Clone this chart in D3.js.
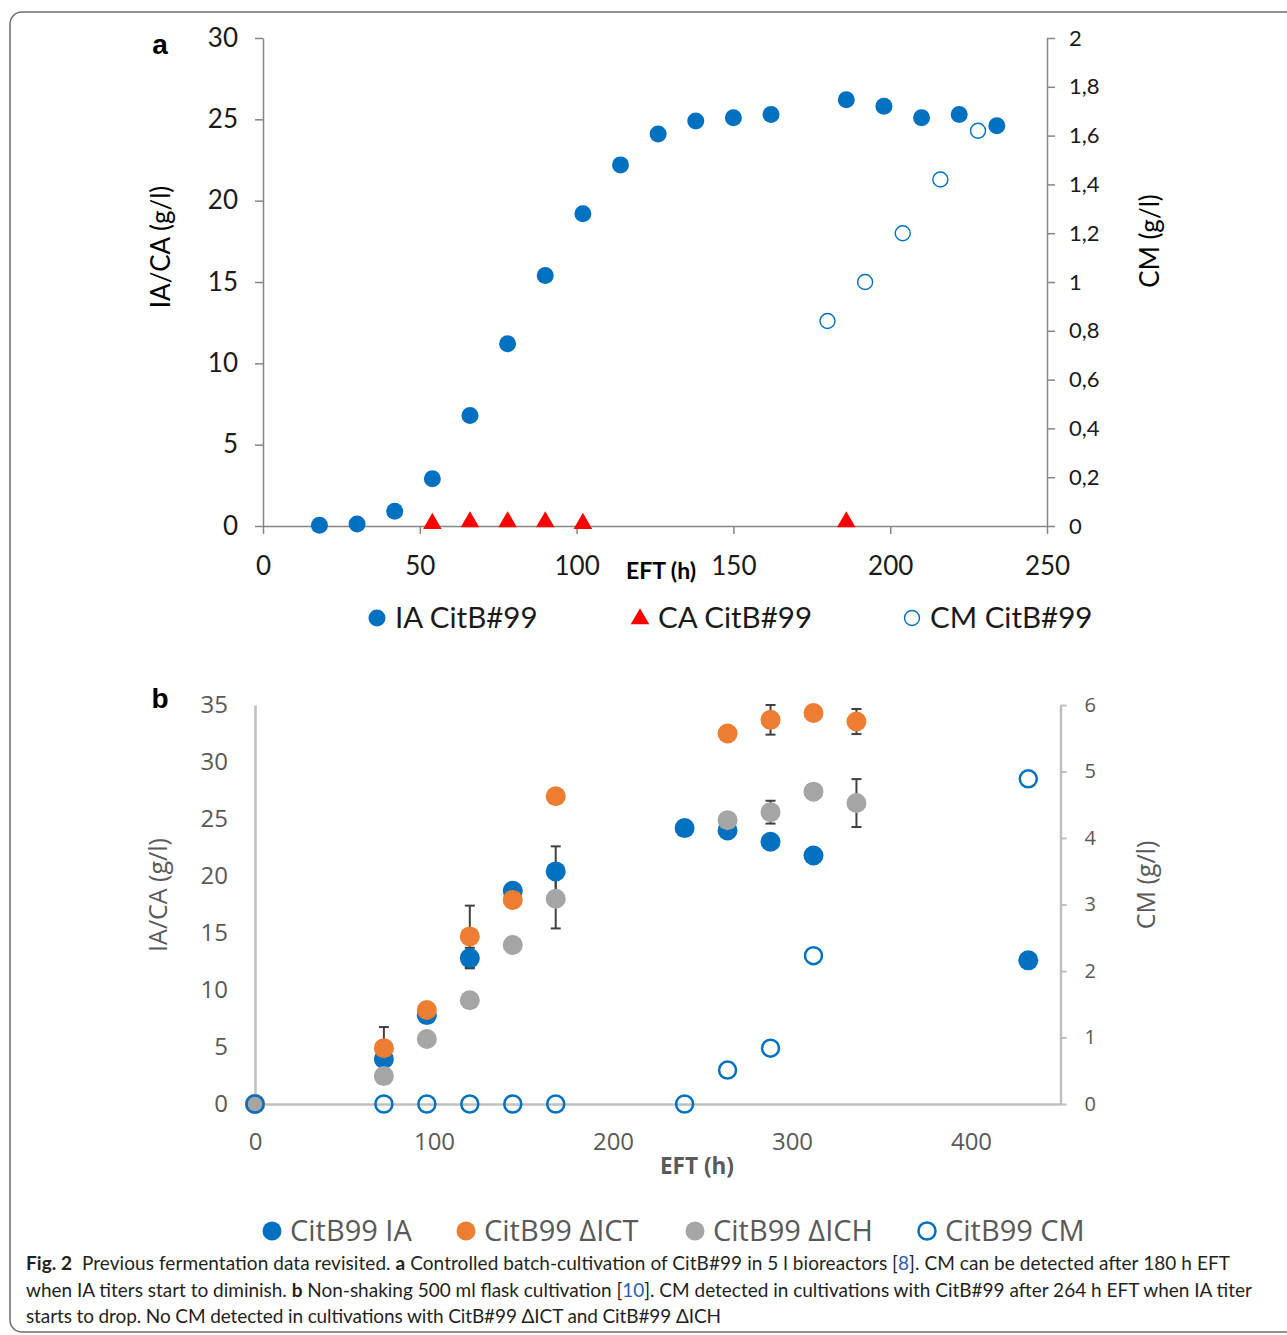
<!DOCTYPE html>
<html>
<head>
<meta charset="utf-8">
<script src="https://cdn.jsdelivr.net/npm/d3@7"></script>
<style>
  body { margin: 0; background: #fff; }
</style>
</head>
<body>
<div id="chart"></div>
<script>
// ---- panel a: controlled batch cultivation, 5 l bioreactor
const aIAHours = [18, 30, 42, 54, 66, 78, 90, 102, 114, 126, 138, 150, 162, 186, 198, 210, 222, 234];
const aIA      = [0.05, 0.12, 0.9, 2.9, 6.8, 11.2, 15.4, 19.2, 22.2, 24.1, 24.9, 25.1, 25.3, 26.2, 25.8, 25.1, 25.3, 24.6];
const aCAHours = [54, 66, 78, 90, 102, 186];
const aCA      = [0.15, 0.25, 0.25, 0.25, 0.15, 0.25];
const aCMHours = [180, 192, 204, 216, 228];
const aCM      = [0.84, 1.0, 1.2, 1.42, 1.62];
const aXTicks     = [0, 50, 100, 150, 200, 250];
const aLeftTicks  = [0, 5, 10, 15, 20, 25, 30];
const aRightTicks = [0, 0.2, 0.4, 0.6, 0.8, 1, 1.2, 1.4, 1.6, 1.8, 2];
const aLegend = ["IA CitB#99", "CA CitB#99", "CM CitB#99"];

// ---- panel b: non-shaking 500 ml flask cultivation
const bIAHours  = [0, 72, 96, 120, 144, 168, 240, 264, 288, 312, 432];
const bIA       = [0, 3.95, 7.8, 12.8, 18.7, 20.4, 24.2, 24.0, 23.0, 21.8, 12.6];
const bIAErr    = [0, 0, 0, 0.9, 0, 2.2, 0, 0, 0, 0, 0];
const bMutHours = [0, 72, 96, 120, 144, 168, 264, 288, 312, 336];
const bICT      = [0, 4.9, 8.25, 14.7, 17.9, 27.0, 32.5, 33.7, 34.3, 33.55];
const bICTErr   = [0, 1.85, 0, 2.7, 0, 0, 0, 1.3, 0, 1.1];
const bICH      = [0, 2.45, 5.7, 9.1, 13.95, 18.0, 24.9, 25.6, 27.4, 26.4];
const bICHErr   = [0, 0, 0, 0, 0, 2.6, 0, 1.0, 0, 2.1];
const bCMHours  = [0, 72, 96, 120, 144, 168, 240, 264, 288, 312, 432];
const bCM       = [0, 0, 0, 0, 0, 0, 0, 0.51, 0.84, 2.23, 4.89];
const bXTicks     = [0, 100, 200, 300, 400];
const bLeftTicks  = [0, 5, 10, 15, 20, 25, 30, 35];
const bRightTicks = [0, 1, 2, 3, 4, 5, 6];
const bLegend = ["CitB99 IA", "CitB99 \u0394ICT", "CitB99 \u0394ICH", "CitB99 CM"];

// caption, one array per line: [text, kind]
const captionLines = [
  [["Fig. 2", "b"], ["  Previous fermentation data revisited. ", ""], ["a", "b"], [" Controlled batch-cultivation of CitB#99 in 5 l bioreactors [", ""], ["8", "link"], ["]. CM can be detected after 180 h EFT", ""]],
  [["when IA titers start to diminish. ", ""], ["b", "b"], [" Non-shaking 500 ml flask cultivation [", ""], ["10", "link"], ["]. CM detected in cultivations with CitB#99 after 264 h EFT when IA titer", ""]],
  [["starts to drop. No CM detected in cultivations with CitB#99 \u0394ICT and CitB#99 \u0394ICH", ""]]
];

const blue = "#0070c0", orange = "#ed7d31", grey = "#a5a5a5", red = "#ff0000";
const fontA = "Lato, 'Liberation Sans', sans-serif";
const fontB = "'Open Sans', 'Noto Sans', sans-serif";

const svg = d3.select("#chart")
  .append("svg")
    .attr("width", 1287)
    .attr("height", 1335);

// figure frame
svg.append("rect")
  .attr("x", 10).attr("y", 12)
  .attr("width", 1310).attr("height", 1320)
  .attr("rx", 12)
  .attr("fill", "none")
  .attr("stroke", "#6e6e6e")
  .attr("stroke-width", 1.5);

// ================= panel a =================
const xA = d3.scaleLinear().domain([0, 250]).range([263, 1047]);
const yA = d3.scaleLinear().domain([0, 30]).range([526, 38]);
const yA2 = d3.scaleLinear().domain([0, 2]).range([526, 38]);

function styleAxisA(g, size) {
  g.select(".domain").attr("stroke", "#868686").attr("stroke-width", 1.5);
  g.selectAll(".tick line").attr("stroke", "#868686").attr("stroke-width", 1.5);
  g.selectAll("text")
    .attr("fill", "#1a1a1a")
    .style("font-family", fontA)
    .style("font-size", size + "px");
}

svg.append("g")
  .attr("transform", `translate(0, ${yA(0)})`)
  .call(d3.axisBottom(xA).tickValues(aXTicks).tickSize(8).tickSizeOuter(0).tickPadding(23))
  .call(g => styleAxisA(g, 26));

svg.append("g")
  .attr("transform", `translate(${xA(0)}, 0)`)
  .call(d3.axisLeft(yA).tickValues(aLeftTicks).tickSize(8).tickSizeOuter(0).tickPadding(17))
  .call(g => styleAxisA(g, 26));

svg.append("g")
  .attr("transform", `translate(${xA(250)}, 0)`)
  .call(d3.axisRight(yA2).tickValues(aRightTicks).tickSize(8).tickSizeOuter(0).tickPadding(14)
    .tickFormat(d => String(d).replace(".", ",")))
  .call(g => styleAxisA(g, 22));

svg.append("text")
  .attr("x", 160).attr("y", 54)
  .attr("text-anchor", "middle")
  .style("font-family", "'Liberation Sans', Arial, sans-serif")
  .style("font-weight", "bold")
  .style("font-size", "28px")
  .text("a");

svg.append("text")
  .attr("transform", "translate(160, 247) rotate(-90)")
  .attr("text-anchor", "middle")
  .attr("dominant-baseline", "central")
  .style("font-family", fontA)
  .style("font-size", "26px")
  .text("IA/CA (g/l)");

svg.append("text")
  .attr("transform", "translate(1149, 241) rotate(-90)")
  .attr("text-anchor", "middle")
  .attr("dominant-baseline", "central")
  .style("font-family", fontA)
  .style("font-size", "26px")
  .text("CM (g/l)");

svg.append("text")
  .attr("x", 661).attr("y", 579)
  .attr("text-anchor", "middle")
  .style("font-family", fontA)
  .style("font-weight", "bold")
  .style("font-size", "23px")
  .text("EFT (h)");

// IA
svg.selectAll("circle.aIA")
  .data(aIAHours)
  .join("circle")
    .attr("class", "aIA")
    .attr("cx", d => xA(d))
    .attr("cy", (d, i) => yA(aIA[i]))
    .attr("r", 8.5)
    .attr("fill", blue);

// CA
svg.selectAll("path.aCA")
  .data(aCAHours)
  .join("path")
    .attr("class", "aCA")
    .attr("transform", (d, i) => `translate(${xA(d)}, ${yA(aCA[i])})`)
    .attr("d", d3.symbol(d3.symbolTriangle, 150))
    .attr("fill", red);

// CM, right axis
svg.selectAll("circle.aCM")
  .data(aCMHours)
  .join("circle")
    .attr("class", "aCM")
    .attr("cx", d => xA(d))
    .attr("cy", (d, i) => yA2(aCM[i]))
    .attr("r", 7.5)
    .attr("fill", "none")
    .attr("stroke", blue)
    .attr("stroke-width", 1.4);

// legend a
const legA = svg.append("g");
const legAx = [377, 640, 912];
legA.append("circle").attr("cx", legAx[0]).attr("cy", 618).attr("r", 8.5).attr("fill", blue);
legA.append("path").attr("transform", `translate(${legAx[1]}, 619)`)
  .attr("d", d3.symbol(d3.symbolTriangle, 150)).attr("fill", red);
legA.append("circle").attr("cx", legAx[2]).attr("cy", 618).attr("r", 7.5)
  .attr("fill", "none").attr("stroke", blue).attr("stroke-width", 1.4);
legA.selectAll("text")
  .data(aLegend)
  .join("text")
    .attr("x", (d, i) => legAx[i] + 18)
    .attr("y", 628)
    .attr("fill", "#1a1a1a")
    .style("font-family", fontA)
    .style("font-size", "29.5px")
    .text(d => d);

// ================= panel b =================
const xB = d3.scaleLinear().domain([0, 450]).range([255, 1060.5]);
const yB = d3.scaleLinear().domain([0, 35]).range([1104, 705]);
const yB2 = d3.scaleLinear().domain([0, 6]).range([1104, 705]);

function styleAxisB(g, size) {
  g.select(".domain").attr("stroke", "#bfbfbf").attr("stroke-width", 2.5);
  g.selectAll(".tick line").attr("stroke", "#bfbfbf").attr("stroke-width", 2);
  g.selectAll("text")
    .attr("fill", "#595959")
    .style("font-family", fontB)
    .style("font-size", size + "px");
}

svg.append("g")
  .attr("transform", `translate(0, ${yB(0)})`)
  .call(d3.axisBottom(xB).tickValues(bXTicks).tickSize(0).tickSizeOuter(0).tickPadding(29))
  .call(g => styleAxisB(g, 24));

svg.append("g")
  .attr("transform", `translate(${xB(0)}, 0)`)
  .call(d3.axisLeft(yB).tickValues(bLeftTicks).tickSize(0).tickSizeOuter(0).tickPadding(27))
  .call(g => styleAxisB(g, 24));

svg.append("g")
  .attr("transform", `translate(${xB(450)}, 0)`)
  .call(d3.axisRight(yB2).tickValues(bRightTicks).tickSize(6).tickSizeOuter(0).tickPadding(18)
    .tickFormat(d3.format("d")))
  .call(g => styleAxisB(g, 20));

svg.append("text")
  .attr("x", 160).attr("y", 708)
  .attr("text-anchor", "middle")
  .style("font-family", "'Liberation Sans', Arial, sans-serif")
  .style("font-weight", "bold")
  .style("font-size", "28px")
  .text("b");

svg.append("text")
  .attr("transform", "translate(157, 895) rotate(-90)")
  .attr("text-anchor", "middle")
  .attr("dominant-baseline", "central")
  .attr("fill", "#595959")
  .style("font-family", fontB)
  .style("font-size", "25px")
  .text("IA/CA (g/l)");

svg.append("text")
  .attr("transform", "translate(1145, 885) rotate(-90)")
  .attr("text-anchor", "middle")
  .attr("dominant-baseline", "central")
  .attr("fill", "#595959")
  .style("font-family", fontB)
  .style("font-size", "25px")
  .text("CM (g/l)");

svg.append("text")
  .attr("x", 697).attr("y", 1174)
  .attr("text-anchor", "middle")
  .attr("fill", "#595959")
  .attr("textLength", 74)
  .attr("lengthAdjust", "spacingAndGlyphs")
  .style("font-family", fontB)
  .style("font-weight", "bold")
  .style("font-size", "23px")
  .text("EFT (h)");

// error bars first, markers drawn over them
function errorBars(hours, vals, errs) {
  const pts = hours.map((h, i) => ({ h, v: vals[i], e: errs[i] })).filter(p => p.e > 0);
  const g = svg.append("g").attr("stroke", "#404040").attr("stroke-width", 2);
  g.selectAll("line.v").data(pts).join("line")
    .attr("x1", p => xB(p.h)).attr("x2", p => xB(p.h))
    .attr("y1", p => yB(p.v + p.e)).attr("y2", p => yB(p.v - p.e));
  g.selectAll("line.t").data(pts).join("line")
    .attr("x1", p => xB(p.h) - 5).attr("x2", p => xB(p.h) + 5)
    .attr("y1", p => yB(p.v + p.e)).attr("y2", p => yB(p.v + p.e));
  g.selectAll("line.b").data(pts).join("line")
    .attr("x1", p => xB(p.h) - 5).attr("x2", p => xB(p.h) + 5)
    .attr("y1", p => yB(p.v - p.e)).attr("y2", p => yB(p.v - p.e));
}
errorBars(bIAHours, bIA, bIAErr);
errorBars(bMutHours, bICT, bICTErr);
errorBars(bMutHours, bICH, bICHErr);

function dots(hours, vals, color) {
  svg.append("g").selectAll("circle")
    .data(hours)
    .join("circle")
      .attr("cx", d => xB(d))
      .attr("cy", (d, i) => yB(vals[i]))
      .attr("r", 10)
      .attr("fill", color);
}
dots(bIAHours, bIA, blue);
dots(bMutHours, bICT, orange);
dots(bMutHours, bICH, grey);

svg.append("g").selectAll("circle")
  .data(bCMHours)
  .join("circle")
    .attr("cx", d => xB(d))
    .attr("cy", (d, i) => yB2(bCM[i]))
    .attr("r", 8.5)
    .attr("fill", "none")
    .attr("stroke", blue)
    .attr("stroke-width", 2.5);

// legend b
const legBx = [272, 466, 695, 927];
const legBcol = [blue, orange, grey, null];
const legB = svg.append("g");
legB.selectAll("circle")
  .data(legBx)
  .join("circle")
    .attr("cx", d => d)
    .attr("cy", 1231)
    .attr("r", (d, i) => legBcol[i] ? 9.5 : 8.5)
    .attr("fill", (d, i) => legBcol[i] || "none")
    .attr("stroke", (d, i) => legBcol[i] ? "none" : blue)
    .attr("stroke-width", 2.5);
legB.selectAll("text")
  .data(bLegend)
  .join("text")
    .attr("x", (d, i) => legBx[i] + 18)
    .attr("y", 1241)
    .attr("fill", "#595959")
    .style("font-family", fontB)
    .style("font-size", "29px")
    .text(d => d);

// ================= caption =================
const capWidths = [1204, 1226, 695];
captionLines.forEach((line, li) => {
  const t = svg.append("text")
    .attr("x", 26)
    .attr("y", 1270 + li * 26.5)
    .attr("fill", "#231f20")
    .attr("textLength", capWidths[li])
    .attr("lengthAdjust", "spacing")
    .style("font-family", fontA)
    .style("font-size", "19px")
    .style("white-space", "pre");
  line.forEach(([txt, kind]) => {
    t.append("tspan")
      .attr("font-weight", kind === "b" ? "bold" : null)
      .attr("fill", kind === "link" ? "#2a5db0" : null)
      .text(txt);
  });
});
</script>
</body>
</html>
